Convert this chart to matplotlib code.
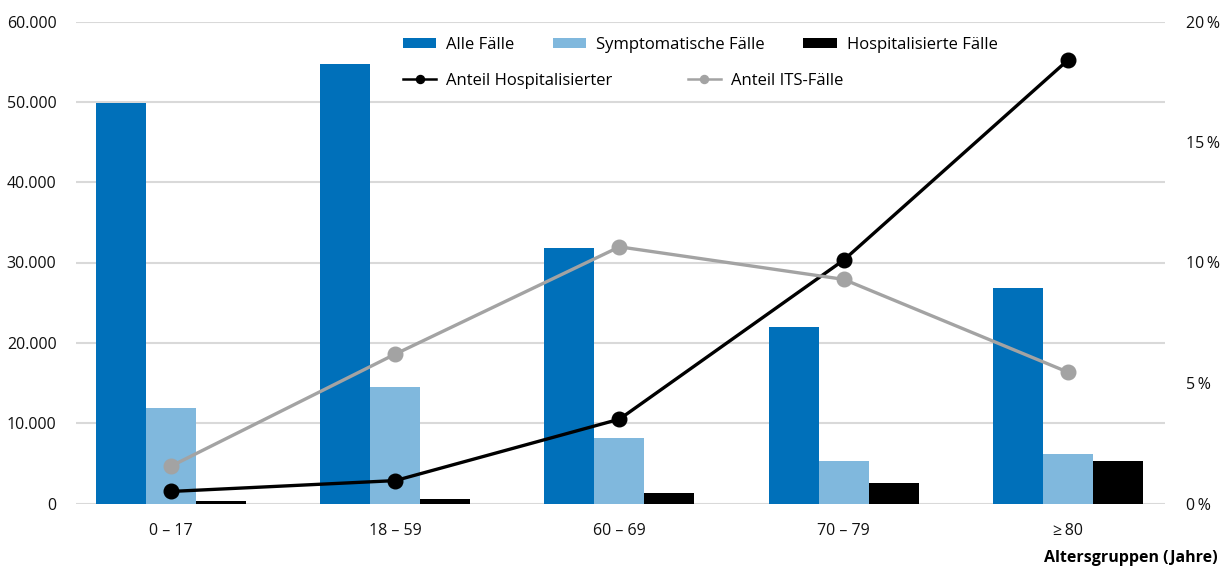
import matplotlib
matplotlib.use("Agg")
import matplotlib.pyplot as plt
import numpy as np
from matplotlib.ticker import FuncFormatter, FixedLocator

categories = ["0 – 17", "18 – 59", "60 – 69", "70 – 79", "≥\u200980"]
alle_faelle = [49900, 54750, 31850, 22000, 26850]
symptomatische = [11950, 14450, 8200, 5350, 6100]
hospitalisierte = [250, 500, 1250, 2500, 5350]
anteil_hosp = [0.5, 0.95, 3.5, 10.1, 18.4]
anteil_its = [1.55, 6.2, 10.65, 9.3, 5.45]

plt.rcParams['font.family'] = ['Open Sans', 'DejaVu Sans']

W, H = 1228, 570
fig = plt.figure(figsize=(W / 100, H / 100), dpi=100)
ax = fig.add_axes([76 / W, 1 - 503.5 / H, (1165 - 76) / W, (503.5 - 21.5) / H])
ax2 = ax.twinx()

x = np.arange(len(categories))
bw = 0.223
c_blue = "#0070ba"
c_light = "#80b8dd"
c_black = "#000000"
b1 = ax.bar(x - bw, alle_faelle, bw, color=c_blue, label="Alle Fälle", zorder=3)
b2 = ax.bar(x, symptomatische, bw, color=c_light, label="Symptomatische Fälle", zorder=3)
b3 = ax.bar(x + bw, hospitalisierte, bw, color=c_black, label="Hospitalisierte Fälle", zorder=3)

l1, = ax2.plot(x, anteil_hosp, color="black", lw=2.4, marker="o", ms=10.5,
               label="Anteil Hospitalisierter", zorder=4)
l2, = ax2.plot(x, anteil_its, color="#a3a3a3", lw=2.4, marker="o", ms=10.5,
               label="Anteil ITS-Fälle", zorder=4)

ax.set_xlim(-0.424, 4.433)
ax.set_ylim(0, 60000)
ax2.set_ylim(0, 20)
ax.yaxis.set_major_locator(FixedLocator(np.arange(0, 60001, 10000)))
ax.yaxis.set_major_formatter(FuncFormatter(lambda v, p: f"{int(v):,}".replace(",", ".")))
ax2.yaxis.set_major_locator(FixedLocator([0, 5, 10, 15, 20]))
ax2.yaxis.set_major_formatter(FuncFormatter(lambda v, p: f"{int(v)}\u2009%"))

ax.grid(axis="y", color="#d9d9d9", lw=1.5, zorder=0)
ax.set_axisbelow(True)
for a in (ax, ax2):
    for s in a.spines.values():
        s.set_visible(False)
ax.tick_params(axis="both", length=0, labelsize=11.5, colors="#111111")
ax.tick_params(axis="y", pad=14)
ax.tick_params(axis="x", pad=14)
ax2.tick_params(axis="y", length=0, labelsize=11.5, colors="#111111", pad=15)
ax.set_xticks(x)
ax.set_xticklabels(categories)

fig.text(1218 / W, 1 - 558 / H, "Altersgruppen (Jahre)", ha="right", va="center",
         fontsize=11.5, fontweight="bold")

fs = 12
leg1 = fig.legend(handles=[b1, b2, b3], loc="center left", ncol=3,
                  bbox_to_anchor=(403 / W, 1 - 45 / H), frameon=False,
                  fontsize=fs, handlelength=2.0, handleheight=0.6,
                  handletextpad=0.6, columnspacing=2.3, borderpad=0, borderaxespad=0)
leg2 = fig.legend(handles=[l1, l2], loc="center left", ncol=2,
                  bbox_to_anchor=(403 / W, 1 - 81 / H), frameon=False,
                  fontsize=fs, handlelength=2.0, handletextpad=0.6,
                  columnspacing=4.5, borderpad=0, borderaxespad=0, markerscale=0.55)
for lh in leg2.get_lines():
    lh.set_linewidth(1.8)

fig.savefig("out.png", dpi=100)
